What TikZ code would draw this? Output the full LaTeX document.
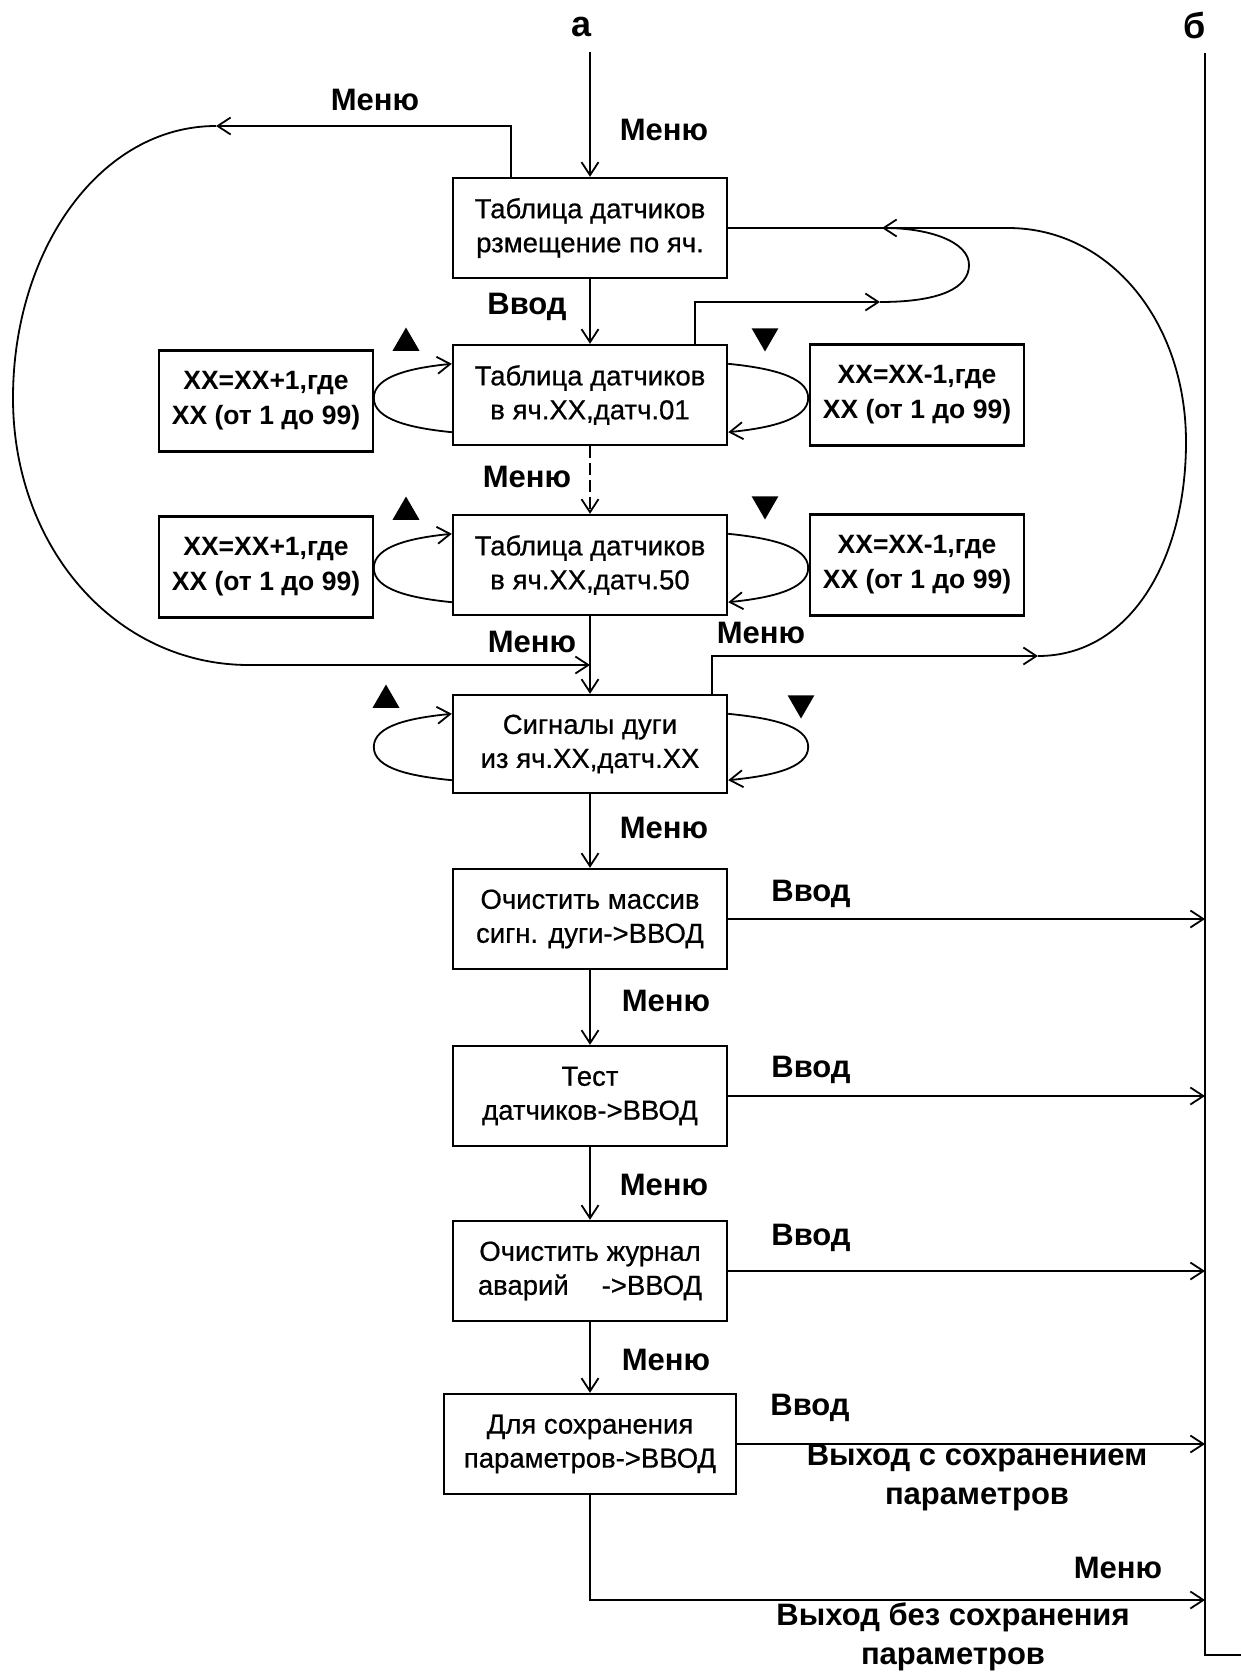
\documentclass[tikz,border=0pt]{standalone}
\usepackage{fontspec}
\setmainfont{Liberation Sans}
\newfontfamily\boxfont[FakeBold=0.6]{Liberation Sans}
\usepackage{tikz}
\usetikzlibrary{shapes.geometric,arrows.meta,positioning,calc}

\begin{document}
\begin{tikzpicture}[
    x=1pt, y=-1pt,
    mbox/.style={rectangle, draw, line width=2.4pt, minimum width=274pt, minimum height=100pt, inner sep=0pt, align=center, font=\boxfont\fontsize{27.5}{34}\selectfont},
    xbox/.style={rectangle, draw, line width=2.4pt, minimum width=214pt, minimum height=101pt, inner sep=0pt, align=center, font=\bfseries\fontsize{26.5}{35}\selectfont},
    lbl/.style={font=\bfseries\fontsize{31}{39}\selectfont, align=center, inner sep=0pt},
    head/.style={font=\bfseries\fontsize{36}{36}\selectfont, inner sep=0pt},
    tri/.style={regular polygon, regular polygon sides=3, fill=black, inner sep=0pt, minimum size=31pt},
    conn/.style={line width=1.8pt},
    arrow/.style={-{Straight Barb[length=13pt, width=17pt]}, line width=1.8pt}
]
\useasboundingbox (0,0) rectangle (1241,1675);

% main column
\node[mbox] (tabl) at (590,228) {Таблица датчиков\\рзмещение по яч.};
\node[mbox] (cell01) at (590,395) {Таблица датчиков\\в яч.XX,датч.01};
\node[mbox] (cell50) at (590,565) {Таблица датчиков\\в яч.XX,датч.50};
\node[mbox, minimum height=98pt] (arcsig) at (590,744) {Сигналы дуги\\из яч.XX,датч.XX};
\node[mbox] (clrarc) at (590,919) {Очистить массив\\сигн. дуги->ВВОД};
\node[mbox] (test) at (590,1096) {Тест\\датчиков->ВВОД};
\node[mbox] (clrlog) at (590,1271) {Очистить журнал\\аварий\hspace{1.2em}->ВВОД};
\node[mbox, minimum width=292pt] (save) at (590,1444) {Для сохранения\\параметров->ВВОД};

% side boxes
\node[xbox] (inc01) at (266,401) {XX=XX+1,где\\XX (от 1 до 99)};
\node[xbox] (dec01) at (917,395) {XX=XX-1,где\\XX (от 1 до 99)};
\node[xbox] (inc50) at (266,567) {XX=XX+1,где\\XX (от 1 до 99)};
\node[xbox] (dec50) at (917,565) {XX=XX-1,где\\XX (от 1 до 99)};

% keys
\node[tri] (up01) at (406,343) {};
\node[tri, shape border rotate=180] (dn01) at (765,336) {};
\node[tri] (up50) at (406,512) {};
\node[tri, shape border rotate=180] (dn50) at (765,504) {};
\node[tri] (uparc) at (386,700) {};
\node[tri, shape border rotate=180] (dnarc) at (801,703) {};

% labels
\node[head] (la) at (582,27) {а};
\node[head] (lb) at (1195,25) {б};
\node[lbl] at (664,130) {Меню};
\node[lbl] at (375,100) {Меню};
\node[lbl] at (527,307) {Ввод};
\node[lbl] at (527,477) {Меню};
\node[lbl] at (532,642) {Меню};
\node[lbl] at (761,633) {Меню};
\node[lbl] at (664,828) {Меню};
\node[lbl] at (811,894) {Ввод};
\node[lbl] at (666,1001) {Меню};
\node[lbl] at (811,1070) {Ввод};
\node[lbl] at (664,1185) {Меню};
\node[lbl] at (811,1238) {Ввод};
\node[lbl] at (666,1360) {Меню};
\node[lbl] at (810,1408) {Ввод};
\node[lbl] at (977,1478) {Выход с сохранением\\параметров};
\node[lbl] at (1118,1568) {Меню};
\node[lbl] at (953,1637) {Выход без сохранения\\параметров};

\coordinate (atop) at (590,52);
\coordinate (btop) at (1205,53);
\coordinate (bbot) at (1205,1655);
\coordinate (bend) at (1241,1655);
\coordinate (lmenu) at (216,126);
\coordinate (lbot) at (249,665);
\coordinate (sloopin) at (880,302);
\coordinate (sloopout) at (882,228);
\coordinate (rloopin) at (1038,656);
\coordinate (rtop) at (1008,228);
\coordinate (bexit) at (1205,1600);

% main chain
\draw[arrow] (atop) -- (tabl);
\draw[arrow] (tabl) -- (cell01);
\draw[arrow, dash pattern=on 12pt off 5pt] (cell01) -- (cell50);
\draw[arrow] (cell50) -- (arcsig);
\draw[arrow] (arcsig) -- (clrarc);
\draw[arrow] (clrarc) -- (test);
\draw[arrow] (test) -- (clrlog);
\draw[arrow] (clrlog) -- (save);

% up/down loops
\foreach \b in {cell01,cell50,arcsig}{
  \draw[arrow] ($(\b.south west)+(0,-14)$) .. controls +(-40,-4) and +(0,22) .. ($(\b.west)+(-78,3)$) .. controls +(0,-22) and +(-40,4) .. ($(\b.north west)+(0,20)$);
  \draw[arrow] ($(\b.north east)+(0,20)$) .. controls +(40,4) and +(0,-22) .. ($(\b.east)+(80,3)$) .. controls +(0,22) and +(40,-4) .. ($(\b.south east)+(0,-14)$);
}

% return loops
\draw[arrow] ([xshift=-79pt]tabl.north) |- (lmenu);
\draw[arrow] (lmenu) .. controls (100,126) and (13,250) .. (13,398) .. controls (13,547) and (115,665) .. (lbot) -- (lbot -| arcsig.north);
\draw[arrow] ([xshift=105pt]cell01.north) |- (sloopin);
\draw[arrow] (sloopin) .. controls (940,302) and (969,288) .. (969,265) .. controls (969,242) and (930,228) .. (sloopout);
\draw[arrow] ([xshift=122pt]arcsig.north) |- (rloopin);
\draw[conn] (rloopin) .. controls (1130,656) and (1186,560) .. (1186,442) .. controls (1186,322) and (1110,228) .. (rtop) -- (tabl.east);

% exits
\draw[conn] (btop) -- (bbot) -- (bend);
\foreach \n in {clrarc,test,clrlog,save}
  \draw[arrow] (\n.east) -- (\n.east -| btop);
\draw[arrow] (save.south) |- (bexit);
\end{tikzpicture}
\end{document}
